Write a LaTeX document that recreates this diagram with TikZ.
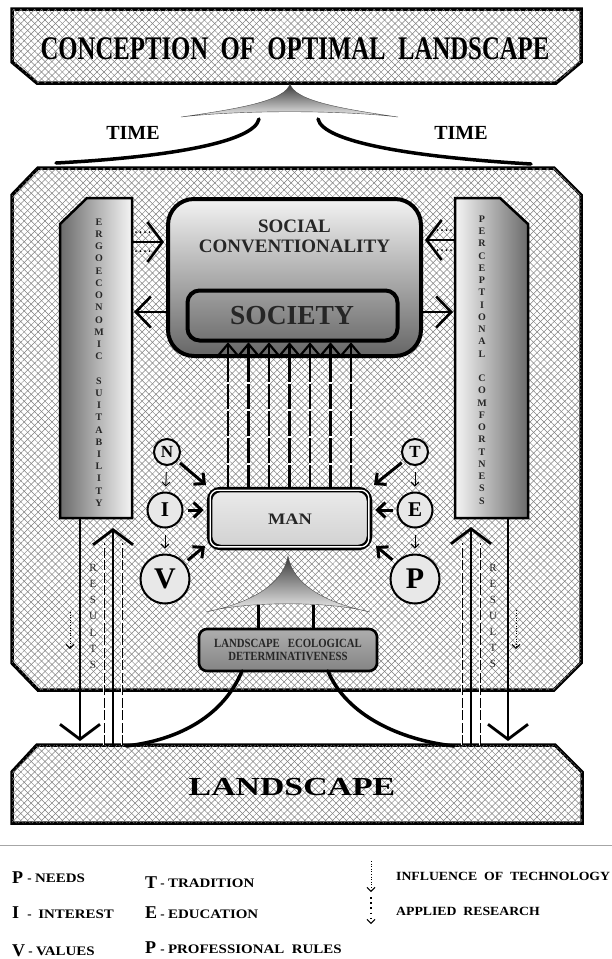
\documentclass[tikz,border=0pt]{standalone}
\usepackage{fontspec}
\setmainfont{Liberation Serif}
\usetikzlibrary{arrows.meta,patterns.meta,calc}

\newcommand{\fsz}[1]{\fontsize{#1}{#1}\selectfont}

\tikzset{
  hatch/.style={fill=white,
    postaction={pattern={Lines[angle=45,distance=4.9pt,line width=0.5pt]},pattern color=black!50},
    postaction={pattern={Lines[angle=-45,distance=4.9pt,line width=0.5pt]},pattern color=black!50}},
  plate/.style={hatch,draw=black,line width=3.5pt,line join=miter},
  bar/.style={draw=black,line width=2.5pt,line join=miter},
  barletter/.style={font=\fsz{10}\bfseries,text=black!85,inner sep=0pt},
  resletter/.style={font=\fsz{11},text=black!85,inner sep=0pt},
  circ/.style={circle,draw=black,line width=2pt,fill=black!9,inner sep=0pt,font=\bfseries},
  curve/.style={line width=3.5pt,line cap=round},
  headL/.style={-{Straight Barb[length=15pt,width=40pt]}},
  headM/.style={-{Straight Barb[length=15pt,width=31pt]}},
  headS/.style={-{Straight Barb[length=8pt,width=15pt]}},
  headT/.style={-{Straight Barb[length=4pt,width=8pt]}},
  techline/.style={line width=1pt,dash pattern=on 1pt off 1.6pt,
    -{Straight Barb[length=4pt,width=8pt,line width=1pt]}},
  researchline/.style={line width=1.8pt,dash pattern=on 1.6pt off 3.6pt,
    -{Straight Barb[length=4pt,width=8pt,line width=1pt]}},
  dotpair/.style={line width=2pt,dash pattern=on 0pt off 4.5pt,line cap=round},
  thinrail/.style={line width=0.8pt,dash pattern=on 10pt off 2.5pt},
  legbig/.style={anchor=base west,inner sep=0pt,font=\fsz{18}\bfseries},
  legsmall/.style={anchor=base west,inner sep=0pt,font=\fsz{13}\bfseries},
}

\begin{document}
\begin{tikzpicture}[x=1pt,y=-1pt]
\useasboundingbox[fill=white] (0,0) rectangle (612,959);

% ---------- top banner ----------
\path[plate] (12,9) -- (581,9) -- (581,62) -- (556,83) -- (37,83) -- (12,62) -- cycle;
\node[font=\fsz{33}\bfseries,inner sep=0pt] (concept) at (295,49)
  {\scalebox{0.75}[1]{CONCEPTION\ \ OF\ \ OPTIMAL\ \ LANDSCAPE}};

% converging peak under the banner
\coordinate (apexT) at (290,84);
\shade[top color=black!78,bottom color=black!6,draw=black!70,line width=0.4pt]
  (181,117) .. controls (245,108) and (285,100) .. (apexT)
  .. controls (295,100) and (335,108) .. (398,117)
  .. controls (340,110) and (240,110) .. cycle;

% time strands
\coordinate (timeL0) at (259,119);
\coordinate (timeL1) at (56,163);
\coordinate (timeR0) at (318,119);
\coordinate (timeR1) at (531,164);
\draw[curve] (timeL0) .. controls (254,142) and (170,157) .. (timeL1);
\draw[curve] (timeR0) .. controls (323,142) and (412,157) .. (timeR1);
\node[font=\fsz{20}\bfseries,inner sep=0pt] (timeL) at (133,133) {TIME};
\node[font=\fsz{20}\bfseries,inner sep=0pt] (timeR) at (461,133) {TIME};

% ---------- main frame and landscape ----------
\path[plate] (12,195) -- (38,168) -- (554,168) -- (581,195) -- (581,663) -- (554,690)
  -- (38,690) -- (12,663) -- cycle;
\path[plate] (37,745) -- (555,745) -- (582,772) -- (582,823) -- (12,823) -- (12,772) -- cycle;
\node[font=\fsz{26}\bfseries,inner sep=0pt] (land) at (292,787) {\scalebox{1.3}[1]{LANDSCAPE}};

% ---------- side columns ----------
\path[bar,left color=black!58,right color=black!4]
  (87,198) -- (132,198) -- (132,518) -- (60,518) -- (60,224) -- cycle;
\path[bar,left color=black!4,right color=black!58]
  (455,198) -- (500,198) -- (528,224) -- (528,518) -- (455,518) -- cycle;
\foreach \ch [count=\k] in {E,R,G,O,E,C,O,N,O,M,I,C,{},S,U,I,T,A,B,I,L,I,T,Y}
  \node[barletter] (ergo\k) at (99,{222+12.22*(\k-1)}) {\ch};
\foreach \ch [count=\k] in {P,E,R,C,E,P,T,I,O,N,A,L,{},C,O,M,F,O,R,T,N,E,S,S}
  \node[barletter] (perc\k) at (482,{219+12.25*(\k-1)}) {\ch};

% ---------- social conventionality / society ----------
\node[draw=black,line width=4pt,rounded corners=26pt,minimum width=253pt,minimum height=157pt,
  top color=black!5,bottom color=black!60] (soc) at (294.5,277.5) {};
\node[font=\fsz{19}\bfseries,align=center,inner sep=0pt,text=black!85] (socT) at (294.5,236)
  {SOCIAL\\[1pt]CONVENTIONALITY};
\node[draw=black,line width=4pt,rounded corners=12pt,minimum width=210pt,minimum height=50pt,
  top color=black!38,bottom color=black!55] (sty) at (292.5,315.5) {};
\node[font=\fsz{27.5}\bfseries,inner sep=0pt,text=black!85] (styT) at (292,316) {SOCIETY};

% column <-> box arrows
\coordinate (ergoA) at (132,242);
\coordinate (ergoB) at (134,312);
\coordinate (percA) at (455,240);
\coordinate (percB) at (453,312);
\draw[line width=2.6pt,headL,shorten >=2pt] (ergoA) -- (soc.west |- ergoA);
\draw[dotpair] (136,232) -- (152,232);
\draw[dotpair] (136,251) -- (152,251);
\draw[line width=2.6pt,headL,shorten >=2pt] (percA) -- (soc.east |- percA);
\draw[dotpair] (451,230) -- (436,230);
\draw[dotpair] (451,250) -- (436,250);
\draw[line width=2.6pt,headM] (soc.west |- ergoB) -- (ergoB);
\draw[line width=2.6pt,headM] (soc.east |- percB) -- (percB);

% ---------- man ----------
\node[draw=black,line width=5.5pt,rounded corners=11pt,minimum width=160pt,minimum height=58pt,
  top color=black!8,bottom color=black!18] (man) at (289.5,518.5) {};
\draw[white,line width=1.5pt,rounded corners=8pt]
  ($(man.south west)+(3.5,-3.5)$) rectangle ($(man.north east)+(-3.5,3.5)$);
\draw[black,line width=0.8pt,rounded corners=7pt]
  ($(man.south west)+(4.7,-4.7)$) rectangle ($(man.north east)+(-4.7,4.7)$);
\node[font=\fsz{16}\bfseries,inner sep=0pt,text=black!85] (manT) at (290,519) {\scalebox{1.15}[1]{MAN}};

% seven links from man up to society
\foreach \i in {0,...,6}{
  \pgfmathsetmacro\xx{228+20.5*\i}
  \coordinate (lk\i) at (\xx,344);
  \draw[line width=2.6pt] (man.north -| lk\i) -- (lk\i);
  \draw[white,line width=2.8pt,dash pattern=on 2pt off 25pt] (\xx,465) -- (\xx,372);
  \draw[line width=2.2pt,line join=miter] ({\xx-10.2},356) -- (lk\i) -- ({\xx+10.2},356);
}

% ---------- factor circles ----------
\node[circ,minimum size=26pt,font=\fsz{17}\bfseries] (N) at (167,452) {N};
\node[circ,minimum size=35pt,font=\fsz{21}\bfseries] (I) at (165,510) {I};
\node[circ,minimum size=49pt,font=\fsz{30}\bfseries] (V) at (165,579) {V};
\node[circ,minimum size=26pt,font=\fsz{17}\bfseries] (T) at (415,452) {T};
\node[circ,minimum size=35pt,font=\fsz{21}\bfseries] (E) at (415,510) {E};
\node[circ,minimum size=49pt,font=\fsz{30}\bfseries] (P) at (415,579) {P};

\draw[line width=0.9pt,headT,shorten <=6pt,shorten >=5pt] (N) -- (I);
\draw[line width=0.9pt,headT,shorten <=6pt,shorten >=5pt] (I) -- (V);
\draw[line width=0.9pt,headT,shorten <=6pt,shorten >=5pt] (T) -- (E);
\draw[line width=0.9pt,headT,shorten <=6pt,shorten >=5pt] (E) -- (P);

\coordinate (manNW) at (206,485);
\coordinate (manNE) at (374,485);
\coordinate (manSW) at (205,546);
\coordinate (manSE) at (376,546);
\draw[line width=3pt,headS,shorten <=3pt] (N) -- (manNW);
\draw[line width=3pt,headS,shorten <=4pt,shorten >=3pt] (I) -- (man.west |- I);
\draw[line width=3pt,headS,shorten <=4pt] (V) -- (manSW);
\draw[line width=3pt,headS,shorten <=3pt] (T) -- (manNE);
\draw[line width=3pt,headS,shorten <=4pt,shorten >=3pt] (E) -- (man.east |- E);
\draw[line width=3pt,headS,shorten <=4pt] (P) -- (manSE);

% ---------- landscape ecological determinativeness ----------
\coordinate (apexB) at (288,556);
\shade[top color=black!78,bottom color=black!6,draw=black!70,line width=0.4pt]
  (206,612) .. controls (250,603) and (283,585) .. (apexB)
  .. controls (293,585) and (326,603) .. (370,612)
  .. controls (330,601) and (246,601) .. cycle;

\node[draw=black,line width=2.6pt,rounded corners=8pt,minimum width=178pt,minimum height=42pt,
  top color=black!32,bottom color=black!48] (led) at (288,650) {};
\node[font=\fsz{12.5}\bfseries,align=center,inner sep=0pt,text=black!85] (ledT) at (288,650)
  {\scalebox{0.86}[1]{LANDSCAPE\ \ \ ECOLOGICAL}\\[0pt]\scalebox{0.86}[1]{DETERMINATIVENESS}};
\coordinate (ledL) at (258,605);
\coordinate (ledR) at (313,605);
\draw[line width=3pt] (ledL) -- (led.north -| ledL);
\draw[line width=3pt] (ledR) -- (led.north -| ledR);

\coordinate (ledBL) at (242,671);
\coordinate (ledBR) at (328,671);
\coordinate (landL) at (126,746);
\coordinate (landR) at (454,746);
\draw[curve] (ledBL) .. controls (224,715) and (180,740) .. (landL);
\draw[curve] (ledBR) .. controls (346,715) and (400,740) .. (landR);

% ---------- results ----------
% left side
\coordinate (ergoD) at (80,518);
\coordinate (ergoU) at (113,528);
\draw[line width=2.8pt,headL] (ergoD) -- (80,741);
\draw[white,line width=2pt] (104,745) -- (104,543);
\draw[white,line width=2pt] (122,745) -- (122,543);
\draw[thinrail] (104,745) -- (104,543);
\draw[thinrail] (122,745) -- (122,543);
\draw[line width=2.8pt,headL] (113,747) -- (ergoU);
\foreach \ch [count=\k] in {R,E,S,U,L,T,S}
  \node[resletter] (resL\k) at (93,{568+16.1*(\k-1)}) {\ch};
\draw[techline] (70,612) -- (70,649);

% right side
\coordinate (percD) at (508,518);
\coordinate (percU) at (471,527);
\draw[line width=2.8pt,headL] (percD) -- (508,741);
\draw[white,line width=2pt] (462,745) -- (462,543);
\draw[white,line width=2pt] (480,745) -- (480,543);
\draw[thinrail] (462,745) -- (462,543);
\draw[thinrail] (480,745) -- (480,543);
\draw[line width=2.8pt,headL] (471,747) -- (percU);
\foreach \ch [count=\k] in {R,E,S,U,L,T,S}
  \node[resletter] (resR\k) at (493,{568+16*(\k-1)}) {\ch};
\draw[techline] (516,610) -- (516,649);

% ---------- legend ----------
\draw[black!35,line width=1pt] (0,845) -- (612,845);

\node[legbig] (k1) at (12,883) {P};
\node[legsmall] (k1t) at (24,882) {\ - \scalebox{1.15}[1]{NEEDS}};
\node[legbig] (k2) at (12,918) {I};
\node[legsmall] (k2t) at (24,918) {\ - \ \scalebox{1.15}[1]{INTEREST}};
\node[legbig] (k3) at (12,956) {V};
\node[legsmall] (k3t) at (25,955) {\ - \scalebox{1.15}[1]{VALUES}};

\node[legbig] (k4) at (145,888) {T};
\node[legsmall] (k4t) at (157,887) {\ - \scalebox{1.15}[1]{TRADITION}};
\node[legbig] (k5) at (145,918) {E};
\node[legsmall] (k5t) at (157,918) {\ - \scalebox{1.15}[1]{EDUCATION}};
\node[legbig] (k6) at (145,953) {P};
\node[legsmall] (k6t) at (157,953) {\ - \scalebox{1.15}[1]{PROFESSIONAL\ \ RULES}};

\coordinate (tech0) at (371,861);
\coordinate (tech1) at (371,892);
\coordinate (res0) at (371,897);
\coordinate (res1) at (371,924);
\draw[techline] (tech0) -- (tech1);
\draw[researchline] (res0) -- (res1);
\node[legsmall,font=\fsz{12.5}\bfseries] (k7) at (396,880) {\scalebox{1.1}[1]{INFLUENCE\ \ OF\ \ TECHNOLOGY}};
\node[legsmall,font=\fsz{12.5}\bfseries] (k8) at (396,915) {\scalebox{1.1}[1]{APPLIED\ \ RESEARCH}};
\end{tikzpicture}
\end{document}
